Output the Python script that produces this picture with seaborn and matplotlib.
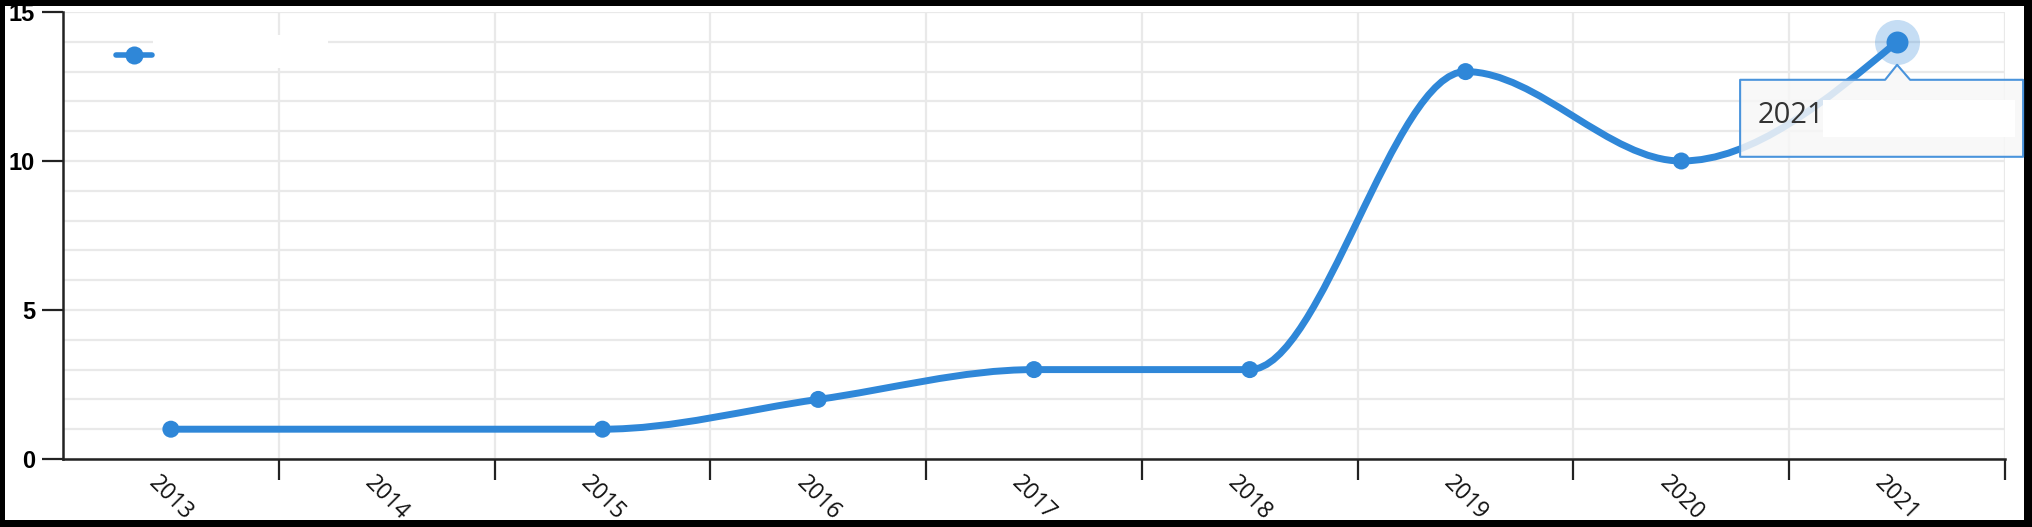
import numpy as np
import pandas as pd
import matplotlib
matplotlib.use("Agg")
import matplotlib.pyplot as plt
import matplotlib.transforms as mtransforms
import seaborn as sns
from matplotlib.path import Path
from matplotlib.patches import PathPatch, Polygon, Rectangle
from matplotlib.lines import Line2D
from matplotlib.ticker import MultipleLocator

# data
categories = ["2013", "2014", "2015", "2016", "2017", "2018", "2019", "2020", "2021"]
years = ["2013", "2015", "2016", "2017", "2018", "2019", "2020", "2021"]
counts = [1, 1, 2, 3, 3, 13, 10, 14]
y_ticks = [0, 5, 10, 15]
tooltip_label = "2021"

LINE = "#2f87d8"
GRID = "#e9e9e9"
AXIS = "#222222"

sns.set_style("white")
plt.rcParams["font.family"] = ["Open Sans", "DejaVu Sans"]

df = pd.DataFrame({"year": years, "count": counts})
df["pos"] = df["year"].map(categories.index)


def monotone_tangents(x, y):
    # same tangents as d3.curveMonotoneX
    h = np.diff(x)
    s = np.diff(y) / h
    t = np.zeros(len(x))
    for i in range(1, len(x) - 1):
        p = (s[i - 1] * h[i] + s[i] * h[i - 1]) / (h[i - 1] + h[i])
        t[i] = (np.sign(s[i - 1]) + np.sign(s[i])) * min(abs(s[i - 1]), abs(s[i]), 0.5 * abs(p))
    t[0] = (3 * s[0] - t[1]) / 2
    t[-1] = (3 * s[-1] - t[-2]) / 2
    return t


def smooth_path(x, y):
    t = monotone_tangents(x, y)
    verts = [(x[0], y[0])]
    codes = [Path.MOVETO]
    for i in range(len(x) - 1):
        dx = (x[i + 1] - x[i]) / 3
        verts += [(x[i] + dx, y[i] + dx * t[i]),
                  (x[i + 1] - dx, y[i + 1] - dx * t[i + 1]),
                  (x[i + 1], y[i + 1])]
        codes += [Path.CURVE4] * 3
    return Path(verts, codes)


fig = plt.figure(figsize=(20.33, 5.27), dpi=100, facecolor="black")
fig.add_artist(Rectangle((5 / 2033, 7 / 527), 2019 / 2033, 514 / 527,
                         transform=fig.transFigure, facecolor="white",
                         edgecolor="none", zorder=-1))
ax = fig.add_axes([63 / 2033, 68 / 527, 1942 / 2033, 447 / 527])
ax.set_facecolor("none")

x = df["pos"].to_numpy(dtype=float)
y = df["count"].to_numpy(dtype=float)
ax.add_patch(PathPatch(smooth_path(x, y), facecolor="none", edgecolor=LINE,
                       lw=5, capstyle="round", joinstyle="round", zorder=3))
sns.scatterplot(data=df, x="pos", y="count", s=150, color=LINE,
                edgecolor="none", linewidth=0, zorder=4, legend=False, ax=ax)

# hovered point
last = df.iloc[-1]
ax.scatter([last["pos"]], [last["count"]], s=1050, color=LINE, alpha=0.28,
           linewidth=0, zorder=2)
ax.scatter([last["pos"]], [last["count"]], s=250, color=LINE, linewidth=0, zorder=5)

ax.set_xlim(-0.5, len(categories) - 0.5)
ax.set_ylim(y_ticks[0], y_ticks[-1])
ax.set_xlabel("")
ax.set_ylabel("")

ax.set_xticks(range(len(categories)))
ax.set_xticklabels(categories, rotation=-45, ha="center", va="top", color="#111111")
ax.set_xticks(np.arange(0.5, len(categories)), minor=True)
ax.tick_params(axis="x", which="major", bottom=True, length=0, pad=9, labelsize=16.5)
ax.tick_params(axis="x", which="minor", bottom=True, length=15, width=1.6,
               color=AXIS, direction="out")

ax.set_yticks(y_ticks)
ax.yaxis.set_minor_locator(MultipleLocator(1))
ax.tick_params(axis="y", which="major", left=True, length=15, width=1.6,
               color=AXIS, direction="out", pad=5, labelsize=17)
ax.tick_params(axis="y", which="minor", left=False, length=0)
for lbl in ax.get_yticklabels():
    lbl.set_fontfamily(["Liberation Sans Narrow", "Liberation Sans", "DejaVu Sans"])
    lbl.set_fontweight("bold")
    lbl.set_color("#000000")

ax.grid(False)
ax.set_axisbelow(True)
ax.xaxis.grid(True, which="minor", color=GRID, lw=1.6)
ax.yaxis.grid(True, which="both", color=GRID, lw=1.6)

for side in ["top", "right"]:
    ax.spines[side].set_visible(False)
for side in ["left", "bottom"]:
    ax.spines[side].set_color(AXIS)
    ax.spines[side].set_linewidth(1.8)

# legend (label text blanked in the reference)
handle = Line2D([], [], color=LINE, lw=4, marker="o", markersize=13, mec="none")
ax.legend(handles=[handle], labels=[""], loc="center left",
          bbox_to_anchor=(0.0273, 0.9016), frameon=False, borderpad=0,
          borderaxespad=0, handlelength=2, handletextpad=0, fontsize=13)
ax.add_patch(Rectangle((0.0463, 0.874), 0.09, 0.074, transform=ax.transAxes,
                       facecolor="white", edgecolor="none", zorder=1))

# tooltip on the last point, sized in pixels
px, py = ax.transData.transform((last["pos"], last["count"]))
L, R, T, B = -157, 126, 38, 115
shape = [(L, T), (-12, T), (0, 23), (13, T), (R, T), (R, B), (L, B)]
ident = mtransforms.IdentityTransform()
fig.add_artist(Polygon([(px + dx, py - dy) for dx, dy in shape], closed=True,
                       transform=ident, facecolor=(0.97, 0.97, 0.97, 0.85),
                       edgecolor="#4a94dc", lw=1.5, joinstyle="round", zorder=6))
fig.add_artist(Rectangle((px - 74, py - 95), 192, 37, transform=ident,
                         facecolor="white", edgecolor="none", zorder=7))
fig.text(px - 139, py - 74, tooltip_label, transform=ident, ha="left",
         va="center", fontsize=21, color="#333333", zorder=8)

fig.savefig("out.png", dpi=100, facecolor=fig.get_facecolor())
